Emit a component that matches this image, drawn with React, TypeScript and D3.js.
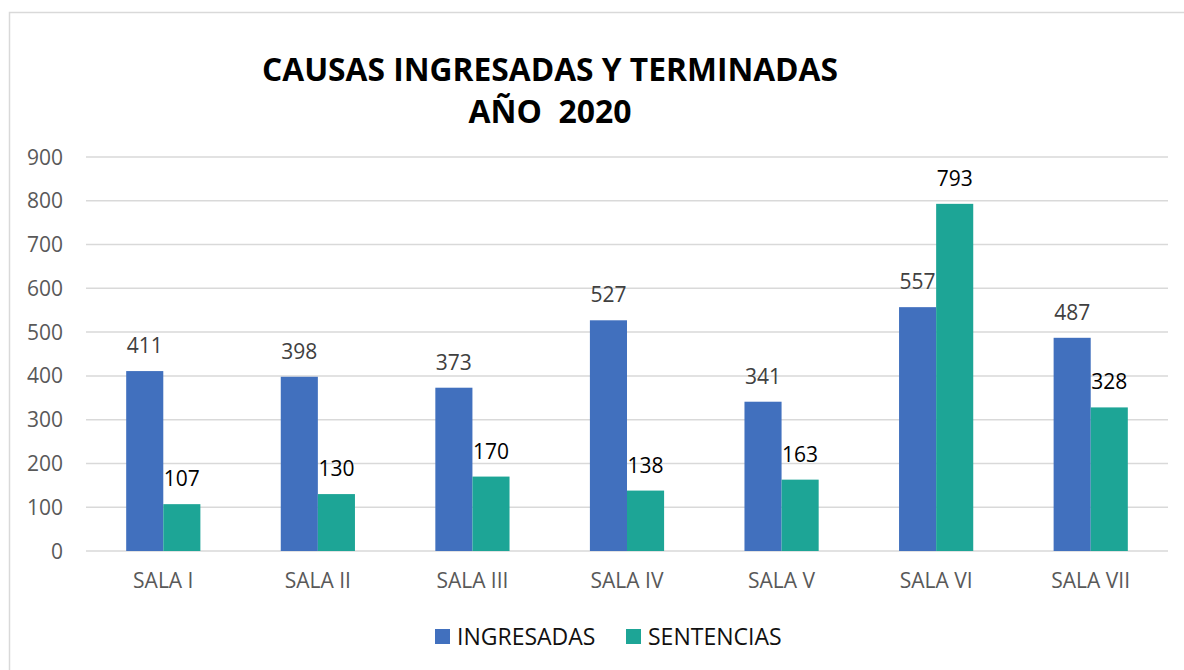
import React from "react";
import * as d3 from "d3";

const categories = ["SALA I", "SALA II", "SALA III", "SALA IV", "SALA V", "SALA VI", "SALA VII"];
const ingresadas = [411, 398, 373, 527, 341, 557, 487];
const sentencias = [107, 130, 170, 138, 163, 793, 328];
const yTicks = [0, 100, 200, 300, 400, 500, 600, 700, 800, 900];
const seriesNames = ["INGRESADAS", "SENTENCIAS"];
const titleLines = ["CAUSAS INGRESADAS Y TERMINADAS", "AÑO  2020"];

const W = 1184;
const H = 670;
const FONT = "'Open Sans', 'Noto Sans', sans-serif";
const COLORS = ["#4170BE", "#1DA596"];
const LABEL_COLORS = ["#404040", "#000000"];

export default function App() {
  const left = 86, right = 1168, top = 157, bottom = 551;
  const x = d3.scaleBand<string>().domain(categories).range([left, right]).paddingInner(0.52).paddingOuter(0.26);
  const x1 = d3.scaleBand<number>().domain([0, 1]).range([0, x.bandwidth()]);
  const y = d3.scaleLinear().domain([0, 900]).range([bottom, top]);
  const series = [ingresadas, sentencias];

  return (
    <svg width={W} height={H} style={{ position: "absolute", left: 0, top: 0, background: "#fff" }} fontFamily={FONT}>
      <rect x={0} y={0} width={W} height={H} fill="#fff" />
      <rect x={9.5} y={12.5} width={W + 20} height={H + 20} fill="none" stroke="#d9d9d9" strokeWidth={1.5} />
      <text x={550} y={81} textAnchor="middle" fontSize={33} fontWeight={700} fill="#000" textLength={576} lengthAdjust="spacingAndGlyphs">{titleLines[0]}</text>
      <text x={550} y={123} textAnchor="middle" fontSize={33} fontWeight={700} fill="#000" textLength={163} lengthAdjust="spacingAndGlyphs" style={{ whiteSpace: "pre" }}>{titleLines[1]}</text>
      {yTicks.map((t) => (
        <g key={t}>
          <line x1={left} x2={right} y1={y(t)} y2={y(t)} stroke="#d9d9d9" strokeWidth={1.5} />
          <text x={63} y={y(t) + 7.5} textAnchor="end" fontSize={21} fill="#595959">{t}</text>
        </g>
      ))}
      {categories.map((c, i) => (
        <g key={c}>
          {series.map((s, k) => {
            const bx = (x(c) as number) + (x1(k) as number);
            return (
              <g key={k}>
                <rect x={bx} y={y(s[i])} width={x1.bandwidth()} height={y(0) - y(s[i])} fill={COLORS[k]} />
                <text x={bx + x1.bandwidth() / 2} y={y(s[i]) - 18} textAnchor="middle" fontSize={21} fill={LABEL_COLORS[k]}>{s[i]}</text>
              </g>
            );
          })}
          <text x={(x(c) as number) + x.bandwidth() / 2} y={588} textAnchor="middle" fontSize={21} fill="#595959">{c}</text>
        </g>
      ))}
      {seriesNames.map((n, k) => {
        const lx = k === 0 ? 435 : 626;
        return (
          <g key={n}>
            <rect x={lx} y={629} width={15} height={15} fill={COLORS[k]} />
            <text x={lx + 22} y={645} fontSize={23} fill="#111">{n}</text>
          </g>
        );
      })}
    </svg>
  );
}
